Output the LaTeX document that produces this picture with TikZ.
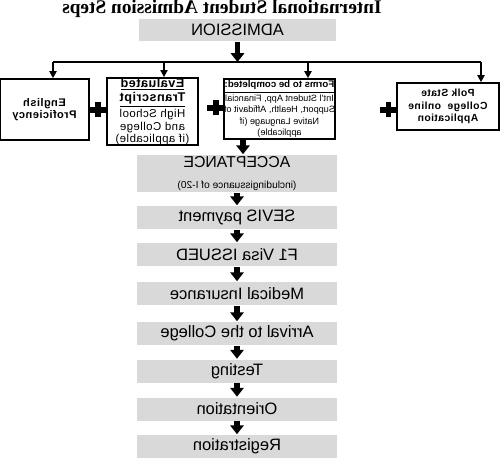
\documentclass[tikz,border=0pt]{standalone}
\usepackage{fontspec}
\setmainfont{Liberation Serif}
\setsansfont{Liberation Sans}
\newfontfamily\spacedsans[LetterSpace=4]{Liberation Sans}
\usetikzlibrary{arrows.meta}
\definecolor{stepgray}{RGB}{217,217,217}
\tikzset{
every picture/.style={
line width=0.9pt
}}

\begin{document}
\begin{tikzpicture}[x=0.02cm, y=0.02cm, xscale=-1, transform shape,
stage/.style = {rectangle, fill=stepgray, minimum width=4cm, minimum height=0.46cm, inner sep=0pt, align=center, font=\sffamily\fontsize{9.4}{11}\selectfont},
choice/.style = {rectangle, draw=black, line width=0.9pt, align=center, inner sep=0pt, font=\spacedsans\fontsize{6.2}{7.1}\selectfont},
bigarrow/.style = {line width=3pt, -{Triangle[width=7.5pt,length=5pt]}},
drop/.style = {line width=1.1pt, -{Triangle[width=4pt,length=4pt]}},
plusbar/.style = {line width=3pt}]
\useasboundingbox (0,0) rectangle (500,-459);

\node[anchor=base, font=\bfseries\fontsize{11}{13}\selectfont] (title) at (278,-13.8) {International Student Admission Steps};
\node[stage, minimum width=3.94cm, minimum height=0.44cm] (adm) at (262.5,-30) {ADMISSION};

% the four things to send in
\node[choice, minimum width=1.78cm, minimum height=1.22cm, font=\spacedsans\bfseries\fontsize{6.3}{7.1}\selectfont] (eng) at (455.5,-109.5) {English\\Proficiency};
\node[choice, minimum width=1.82cm, minimum height=1.30cm, font=\spacedsans\fontsize{6.5}{7.1}\selectfont] (eval) at (347.5,-111.5) {{\fontsize{7.2}{7.1}\selectfont\bfseries\underline{Evaluated}}\\{\fontsize{7.2}{7.1}\selectfont\bfseries\underline{Transcript}}\\High School\\and College\\(if applicable)};
\node[choice, minimum width=2.18cm, minimum height=1.20cm, font=\sffamily\fontsize{5.2}{6.4}\selectfont] (forms) at (220.5,-109) {{\fontsize{5.5}{6.4}\selectfont\bfseries\underline{Forms to be completed:}}\\Int'l Student App, Financial\\Support, Health, Affidavit of\\Native Language (if\\applicable)};
\node[choice, minimum width=2.04cm, minimum height=0.94cm, font=\spacedsans\bfseries\fontsize{5.9}{7.1}\selectfont] (polk) at (52,-106.5) {Polk State\\College\ \ online\\Application};

% steps after the forms
\node[stage, minimum height=0.74cm, font=\sffamily\fontsize{9}{11}\selectfont] (acc) at (263,-173.5) {ACCEPTANCE\\[1pt]{\fontsize{5.8}{7}\selectfont (includingissuance of I-20)}};
\node[stage] (sevis) at (263,-217.5) {SEVIS payment};
\node[stage] (visa) at (263,-254.5) {F1 Visa ISSUED};
\node[stage] (med) at (263,-293.5) {Medical Insurance};
\node[stage] (arr) at (263,-333.5) {Arrival to the College};
\node[stage] (test) at (263,-371) {Testing};
\node[stage] (orient) at (263,-409) {Orientation};
\node[stage] (reg) at (263,-446.5) {Registration};

\coordinate (busL) at (19,-62);
\coordinate (busR) at (447,-62);
\draw[line width=1.1pt] (busL) -- (busR);
\draw[bigarrow] (adm.south) -- (adm.south |- busL);
\foreach \x/\n in {447/eng, 336/eval, 192/forms, 19/polk}{
  \coordinate (d\n) at (\x,-62);
  \draw[drop] (d\n) -- (d\n |- \n.north);
}

\foreach \x/\y in {402/-110, 284/-108, 111.5/-110}
  \draw[plusbar] (\x,\y) +(-8.5,0) -- +(8.5,0) (\x,\y) +(0,-7.5) -- +(0,7.5);

\coordinate (fa) at (257,0);
\draw[bigarrow] (forms.south -| fa) -- (acc.north -| fa);
\foreach \a/\b in {acc/sevis, sevis/visa, visa/med, med/arr, arr/test, test/orient, orient/reg}
  \draw[bigarrow] (\a.south) -- (\b.north);
\end{tikzpicture}
\end{document}
